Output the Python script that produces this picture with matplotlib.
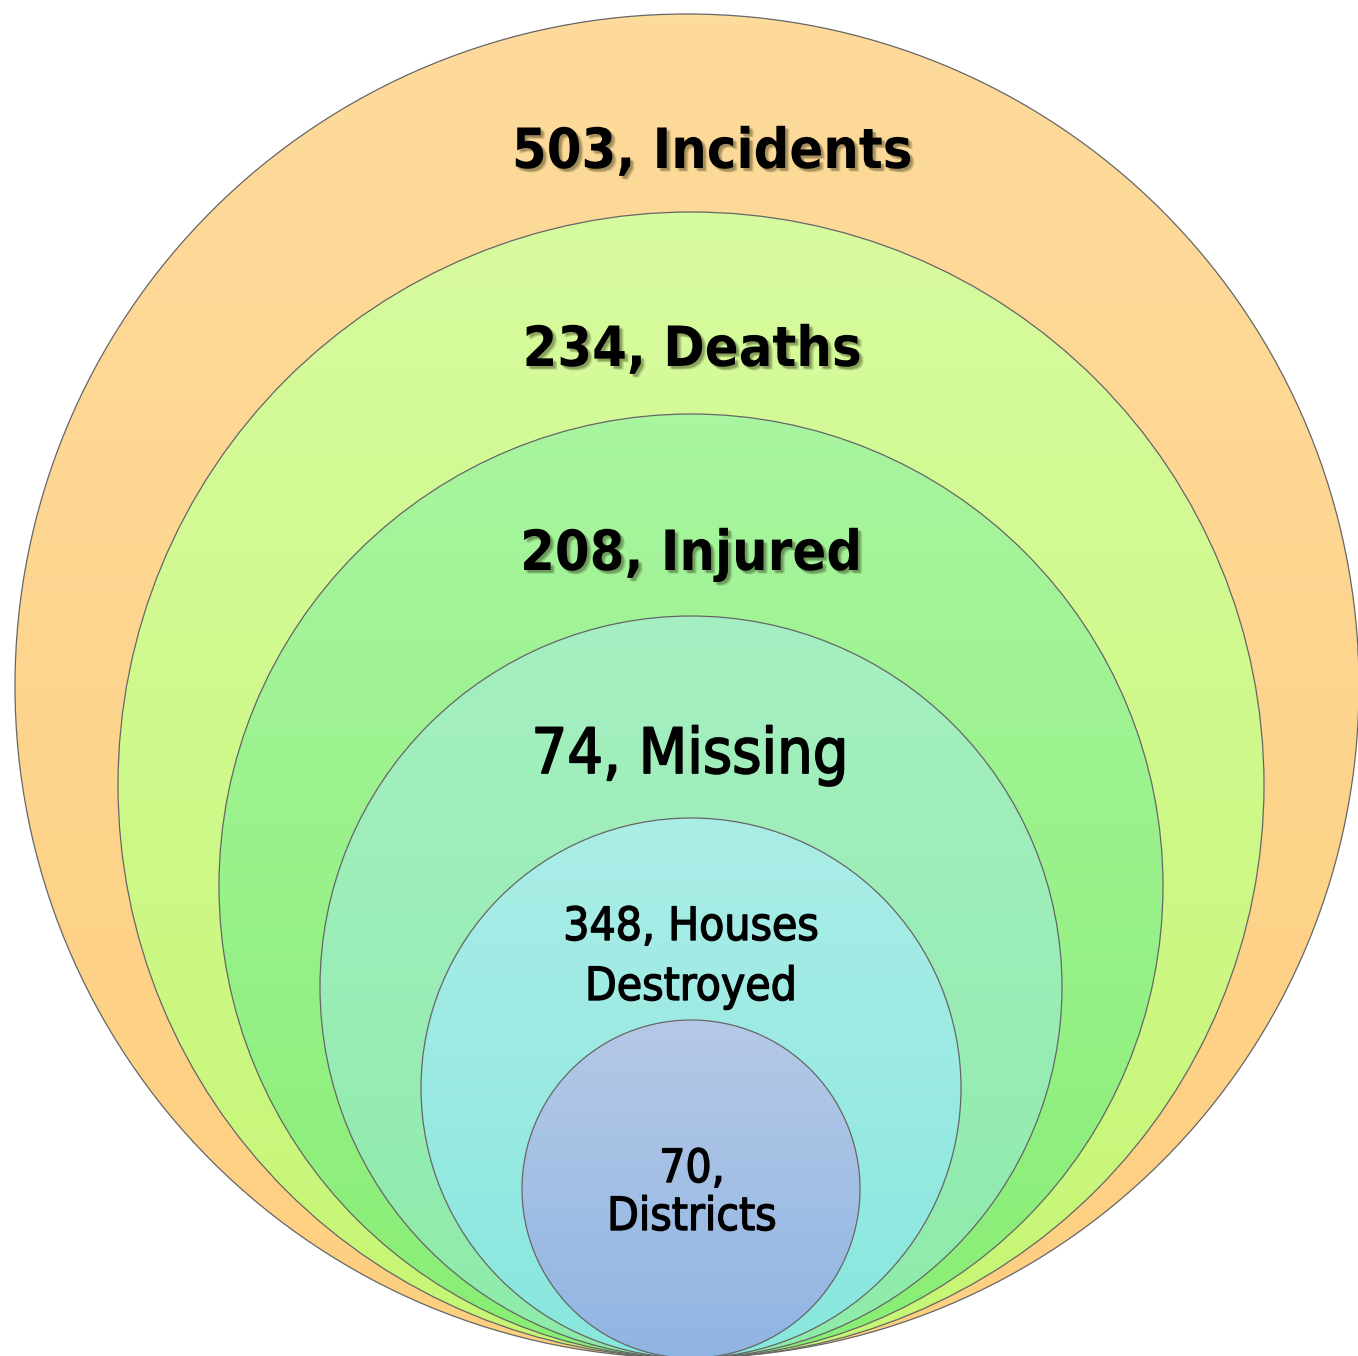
import numpy as np
import matplotlib
matplotlib.use('Agg')
import matplotlib.pyplot as plt
from matplotlib.patches import Circle
from matplotlib.colors import LinearSegmentedColormap
import matplotlib.patheffects as pe

# data, outer ring first
values = [503, 234, 208, 74, 348, 70]
labels = ['Incidents', 'Deaths', 'Injured', 'Missing', 'Houses\nDestroyed', 'Districts']
top_colors = ['#fddb9c', '#d7fb9f', '#a9f5a0', '#a6efc2', '#abede7', '#b5c9e6']
bottom_colors = ['#fdcf80', '#c6f674', '#88ee74', '#8deba9', '#88e7de', '#90b5e3']

# layout (pixels)
W, H = 1358, 1356
radii = [672, 573, 472, 371, 270, 169]
centers_x = [687, 691, 691, 691, 691, 691]
bottom_y = 1358

label_text = ['503, Incidents', '234, Deaths', '208, Injured', '74, Missing',
              '348, Houses\nDestroyed', '70,\nDistricts']
label_y = [[168], [366], [570], [773], [940, 1000], [1182, 1230]]
label_x = [712, 692, 691, 690, 691, 692]
label_size = [40, 40, 40, 45, 33, 33]
label_bold = [True, True, True, False, False, False]
label_stroke = [0, 0, 0, 1.3, 1.0, 1.0]

fig = plt.figure(figsize=(W / 100, H / 100), dpi=100)
ax = fig.add_axes([0, 0, 1, 1])
ax.set_xlim(0, W)
ax.set_ylim(H, 0)
ax.set_aspect('equal')
ax.axis('off')

def shadow():
    effs = []
    for dx, dy in [(2.2, -2.2), (1.6, -1.6), (2.8, -2.8), (2.2, -1.4), (1.4, -2.2), (3.2, -2.4)]:
        effs.append(pe.SimplePatchShadow(offset=(dx, dy), shadow_rgbFace='#1a1a00', alpha=0.08))
    effs.append(pe.Normal())
    return effs

for i, r in enumerate(radii):
    cx = centers_x[i]
    cy = bottom_y - r
    circ = Circle((cx, cy), r, facecolor='none', edgecolor='#666666', lw=0.9, zorder=3 + 2 * i)
    ax.add_patch(circ)
    cmap = LinearSegmentedColormap.from_list(f'g{i}', [top_colors[i], bottom_colors[i]])
    grad = np.linspace(0, 1, 256).reshape(-1, 1)
    im = ax.imshow(grad, cmap=cmap, extent=[cx - r, cx + r, cy + r, cy - r],
                   aspect='auto', zorder=2 + 2 * i, interpolation='bilinear')
    im.set_clip_path(circ)

    for line, y in zip(label_text[i].split('\n'), label_y[i]):
        t = ax.text(label_x[i], y, line, ha='center', va='baseline',
                    fontsize=label_size[i], family='DejaVu Sans', fontstretch='condensed',
                    fontweight='bold' if label_bold[i] else 'normal', color='black', zorder=20)
        if label_bold[i]:
            t.set_path_effects(shadow())
        else:
            t.set_path_effects([pe.withStroke(linewidth=label_stroke[i], foreground='black')])

fig.savefig('out.png', dpi=100)
